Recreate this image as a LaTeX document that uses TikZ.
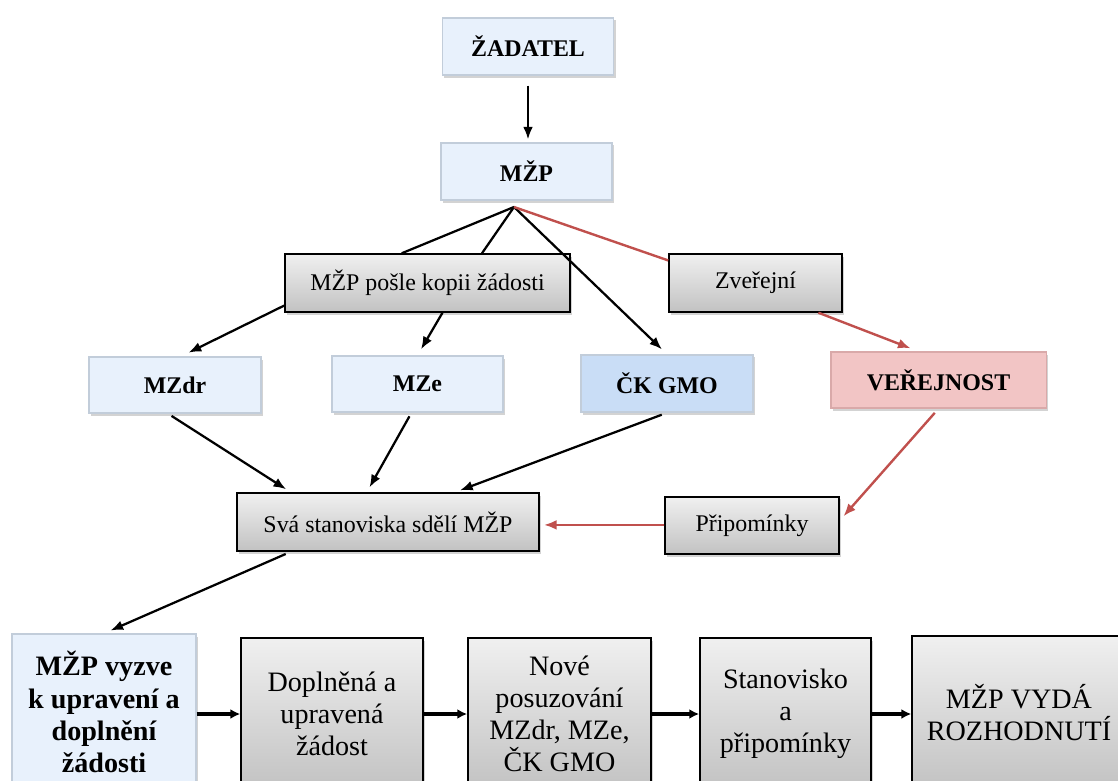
\documentclass[tikz,border=0pt]{standalone}
\usepackage{fontspec}
\setmainfont{Liberation Serif}
\newfontfamily\timesface{Liberation Serif}
\usetikzlibrary{arrows.meta, calc, shadows}
\definecolor{boxblue}{HTML}{E8F1FC}
\definecolor{bevelblue}{HTML}{C2CDDA}
\definecolor{gmoblue}{HTML}{C9DDF6}
\definecolor{pubred}{HTML}{F2C5C5}
\definecolor{bevelred}{HTML}{D9A9A9}
\definecolor{linered}{HTML}{C0504D}
\definecolor{gradtop}{HTML}{F0F0F0}
\definecolor{gradbot}{HTML}{C2C2C2}
\tikzset{
>={Latex[length=9pt,width=7pt]},
  softshadow/.style={drop shadow={shadow xshift=1.5pt, shadow yshift=-1.8pt, opacity=0.35}},
  bluebox/.style={
    rectangle,
    fill=boxblue,
    draw=bevelblue, line width=0.9pt,
    inner sep=0pt,
    font=\timesface\bfseries\fontsize{17}{20}\selectfont,
    softshadow},
  graybox/.style={
    rectangle,
    top color=gradtop, bottom color=gradbot,
    draw=black, line width=1pt,
    inner sep=0pt,
    font=\timesface\fontsize{17}{20}\selectfont,
    softshadow},
  bigfont/.style={font=\timesface\fontsize{20}{22.8}\selectfont, align=center},
  bigbold/.style={font=\timesface\bfseries\fontsize{20}{22.8}\selectfont, align=center},
  line/.style={draw, line width=1.6pt},
  redline/.style={draw=linered, line width=1.7pt},
  steparrow/.style={draw, ->, line width=2.2pt, >={Latex[length=7pt,width=7pt]}},
}
\begin{document}
\begin{tikzpicture}[x=0.025cm, y=-0.025cm]
     \useasboundingbox (0,0) rectangle (1118,781);
     % upper part
     \node[bluebox, minimum width=4.28cm, minimum height=1.43cm] (Zadatel) at (528,46.5) {ŽADATEL};
     \node[bluebox, minimum width=4.28cm, minimum height=1.43cm] (Mzp) at (526.5,171.5) {MŽP};
     \coordinate (MzpFoot) at (514,207);
     \node[graybox, minimum width=7.13cm, minimum height=1.45cm] (MzpPosle) at (427.5,283) {MŽP pošle kopii žádosti};
     \node[graybox, minimum width=4.33cm, minimum height=1.45cm] (Zverejni) at (755.5,283) {Zveřejní};
     \node[bluebox, minimum width=4.3cm, minimum height=1.4cm] (MZdr) at (175,385) {MZdr};
     \node[bluebox, minimum width=4.28cm, minimum height=1.4cm] (MZe) at (417.5,384) {MZe};
     \node[bluebox, fill=gmoblue, minimum width=4.3cm, minimum height=1.43cm] (CkGmo) at (667,383.5) {ČK GMO};
     \node[bluebox, fill=pubred, draw=bevelred, minimum width=5.38cm, minimum height=1.4cm] (Verejnost) at (938.5,380) {VEŘEJNOST};
     \node[graybox, minimum width=7.55cm, minimum height=1.45cm] (SvaStanoviska) at (388,522) {Svá stanoviska sdělí MŽP};
     \node[graybox, minimum width=4.35cm, minimum height=1.43cm] (Pripominky) at (752,525.5) {Připomínky};
     % bottom row
     \node[bluebox, bigbold, minimum width=4.6cm, minimum height=3.9cm] (MzpVyzve) at (104,712) {MŽP vyzve\\k upravení a\\doplnění\\žádosti};
     \node[graybox, bigfont, minimum width=4.55cm, minimum height=3.8cm] (Doplnena) at (332,714) {Doplněná a\\upravená\\žádost};
     \node[graybox, bigfont, minimum width=4.58cm, minimum height=3.8cm] (NovePosuzovani) at (559.5,714) {Nové\\posuzování\\MZdr, MZe,\\ČK GMO};
     \node[graybox, bigfont, minimum width=4.28cm, minimum height=3.8cm] (Stanovisko) at (785.5,714) {Stanovisko\\a\\připomínky};
     \node[graybox, bigfont, minimum width=5.35cm, minimum height=3.85cm] (MzpVyda) at (1019,713) {MŽP VYDÁ\\ROZHODNUTÍ};
     % connectors
     \path[line, ->, shorten <=7pt, shorten >=2pt] (Zadatel.south) -- (Zadatel.south |- Mzp.north);
     \path[line] (MzpFoot) -- ($(MzpPosle.north west)!0.41!(MzpPosle.north east)$);
     \path[line] (MzpFoot) -- ($(MzpPosle.north west)!0.69!(MzpPosle.north east)$);
     \path[line, ->, shorten >=5pt] (MzpFoot) -- (CkGmo.north);
     \path[redline] (MzpFoot) -- ($(Zverejni.north west)!0.12!(Zverejni.south west)$);
     \path[line, ->, shorten >=6pt] ($(MzpPosle.north west)!0.88!(MzpPosle.south west)$) -- ($(MZdr.north)+(6,0)$);
     \path[line, ->, shorten >=5pt] ($(MzpPosle.south)+(15,0)$) -- (MZe.north);
     \path[redline, ->, shorten >=6pt] ($(Zverejni.south west)!0.86!(Zverejni.south east)$) -- ($(Verejnost.north)+(-20,0)$);
     \path[line, ->, shorten <=3pt, shorten >=4pt] ($(MZdr.south)+(-7,0)$) -- ($(SvaStanoviska.north west)!0.18!(SvaStanoviska.north east)$);
     \path[line, ->, shorten <=3pt, shorten >=4pt] ($(MZe.south)+(-6,0)$) -- ($(SvaStanoviska.north west)!0.43!(SvaStanoviska.north east)$);
     \path[line, ->, shorten <=4pt, shorten >=4pt] (CkGmo.south) -- ($(SvaStanoviska.north west)!0.72!(SvaStanoviska.north east)$);
     \path[redline, ->, shorten <=4pt, shorten >=4pt] (Verejnost.south) -- ($(Pripominky.east)+(0,-5)$);
     \path[redline, ->, shorten >=3pt] ($(Pripominky.west)+(0,-0.6)$) -- ($(Pripominky.west -| SvaStanoviska.east)+(0,-0.6)$);
     \path[line, ->, shorten <=4pt, shorten >=5pt] ($(SvaStanoviska.south west)!0.18!(SvaStanoviska.south east)$) -- (MzpVyzve.north);
     \path[steparrow] (Doplnena.west -| MzpVyzve.east) -- (Doplnena.west);
     \path[steparrow] (Doplnena.east) -- (NovePosuzovani.west);
     \path[steparrow] (NovePosuzovani.east) -- (Stanovisko.west);
     \path[steparrow] (Stanovisko.east) -- (Stanovisko.east -| MzpVyda.west);
\end{tikzpicture}
\end{document}
